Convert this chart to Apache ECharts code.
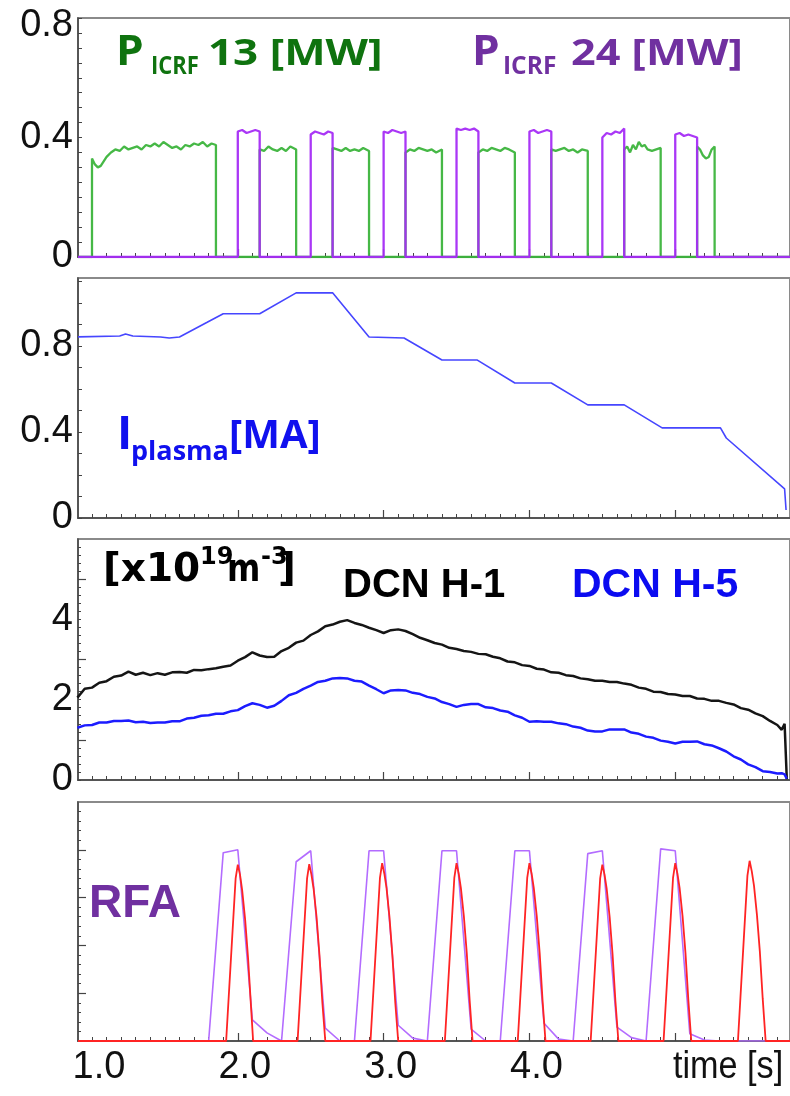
<!DOCTYPE html>
<html><head><meta charset="utf-8">
<script src="https://cdn.jsdelivr.net/npm/echarts@6/dist/echarts.min.js"></script>
<style>html,body{margin:0;padding:0;background:#fff}#c{width:790px;height:1096px}</style>
</head><body><div id="c"></div>
<script>
// ---------------- DATA ----------------
const timeRange = [0.904, 5.787];
const timeMinorTicks = [1.0,1.1,1.2,1.3,1.4,1.5,1.6,1.7,1.8,1.9,2.0,2.1,2.2,2.3,2.4,2.5,2.6,2.7,2.8,2.9,3.0,3.1,3.2,3.3,3.4,3.5,3.6,3.7,3.8,3.9,4.0,4.1,4.2,4.3,4.4,4.5,4.6,4.7,4.8,4.9,5.0,5.1,5.2,5.3,5.4,5.5,5.6,5.7];
const timeMajorTicks = [2, 3, 4, 5];
const timeLabels = [1, 2, 3, 4];

const p1YTicks = [0,0.05,0.1,0.15,0.2,0.25,0.3,0.35,0.4,0.45,0.5,0.55,0.6,0.65,0.7,0.75,0.8];
const p1YLabels = [0, 0.4, 0.8];
const p2YTicks = [0,0.1,0.2,0.3,0.4,0.5,0.6,0.7,0.8,0.9,1.0,1.1];
const p2YLabels = [0, 0.4, 0.8];
const p3YTicks = [0,0.2,0.4,0.6,0.8,1,1.2,1.4,1.6,1.8,2,2.2,2.4,2.6,2.8,3,3.2,3.4,3.6,3.8,4,4.2,4.4,4.6,4.8,5,5.2,5.4,5.6,5.8];
const p3YMajor = [1, 3, 5];
const p3YLabels = [0, 2, 4];
const p4YTicks = [0,0.2,0.4,0.6,0.8,1,1.2,1.4,1.6,1.8,2,2.2,2.4,2.6,2.8,3,3.2,3.4,3.6,3.8,4,4.2,4.4,4.6,4.8];
const p4YMajor = [1, 2, 3, 4];

// P_ICRF 13 [MW] (green)
const picrf13 = [[0.904,0],[1.0,0],[1.0,0.33],[1.02,0.31],[1.04,0.30],[1.06,0.305],[1.08,0.32],[1.10,0.335],[1.13,0.35],[1.16,0.36],[1.19,0.355],[1.22,0.37],[1.25,0.36],[1.28,0.365],[1.31,0.37],[1.34,0.36],[1.37,0.375],[1.40,0.37],[1.43,0.38],[1.46,0.37],[1.49,0.385],[1.52,0.375],[1.55,0.365],[1.58,0.37],[1.61,0.36],[1.64,0.375],[1.67,0.37],[1.70,0.38],[1.73,0.375],[1.76,0.385],[1.79,0.37],[1.82,0.38],[1.85,0.375],[1.85,0],
[2.15,0],[2.15,0.36],[2.18,0.355],[2.21,0.37],[2.24,0.36],[2.27,0.355],[2.30,0.365],[2.33,0.355],[2.36,0.37],[2.40,0.36],[2.40,0],
[2.65,0],[2.65,0.365],[2.68,0.36],[2.71,0.355],[2.74,0.365],[2.77,0.355],[2.80,0.36],[2.83,0.355],[2.86,0.365],[2.90,0.355],[2.90,0],
[3.15,0],[3.15,0.35],[3.18,0.36],[3.21,0.355],[3.24,0.365],[3.27,0.36],[3.30,0.355],[3.33,0.36],[3.36,0.35],[3.40,0.36],[3.40,0],
[3.65,0],[3.65,0.35],[3.68,0.36],[3.71,0.355],[3.74,0.365],[3.77,0.36],[3.80,0.355],[3.83,0.365],[3.86,0.36],[3.90,0.35],[3.90,0],
[4.15,0],[4.15,0.36],[4.18,0.355],[4.21,0.36],[4.24,0.365],[4.27,0.355],[4.30,0.36],[4.33,0.35],[4.36,0.36],[4.40,0.355],[4.40,0],
[4.65,0],[4.65,0.36],[4.67,0.37],[4.69,0.35],[4.71,0.375],[4.73,0.36],[4.75,0.385],[4.77,0.37],[4.79,0.375],[4.81,0.36],[4.84,0.355],[4.87,0.36],[4.90,0.365],[4.90,0],
[5.15,0],[5.15,0.37],[5.17,0.36],[5.19,0.34],[5.21,0.33],[5.23,0.335],[5.25,0.36],[5.27,0.37],[5.27,0],[5.787,0]];

// P_ICRF 24 [MW] (purple)
const picrf24 = [[0.904,0],[2.0,0],[2.0,0.42],[2.03,0.425],[2.06,0.415],[2.09,0.42],[2.12,0.425],[2.15,0.42],[2.15,0],
[2.5,0],[2.5,0.41],[2.53,0.42],[2.56,0.415],[2.59,0.41],[2.62,0.42],[2.65,0.415],[2.65,0],
[3.0,0],[3.0,0.42],[3.03,0.415],[3.06,0.425],[3.09,0.42],[3.12,0.415],[3.15,0.42],[3.15,0],
[3.5,0],[3.5,0.43],[3.53,0.425],[3.56,0.43],[3.59,0.425],[3.62,0.43],[3.65,0.42],[3.65,0],
[4.0,0],[4.0,0.42],[4.03,0.425],[4.06,0.415],[4.09,0.42],[4.12,0.425],[4.15,0.42],[4.15,0],
[4.5,0],[4.5,0.40],[4.53,0.415],[4.56,0.41],[4.59,0.42],[4.62,0.415],[4.65,0.43],[4.65,0],
[5.0,0],[5.0,0.41],[5.03,0.415],[5.06,0.405],[5.09,0.41],[5.12,0.405],[5.15,0.40],[5.15,0],[5.787,0]];

// I_plasma [MA]
const iplasma = [[0.904,0.842],[1.19,0.846],[1.23,0.856],[1.28,0.846],[1.47,0.842],[1.53,0.837],[1.60,0.842],[1.79,0.91],[1.90,0.95],[2.15,0.95],[2.40,1.047],[2.65,1.047],[2.90,0.842],[3.14,0.837],[3.40,0.735],[3.64,0.735],[3.90,0.628],[4.15,0.628],[4.40,0.526],[4.65,0.526],[4.91,0.419],[5.31,0.419],[5.35,0.372],[5.75,0.135],[5.76,0.037]];

// DCN H-1 (black), DCN H-5 (blue), x10^19 m^-3
const dcnTime = [0.90,0.95,1.00,1.05,1.10,1.15,1.20,1.25,1.30,1.35,1.40,1.45,1.50,1.55,1.60,1.65,1.70,1.75,1.80,1.85,1.90,1.95,2.00,2.05,2.10,2.15,2.20,2.25,2.30,2.35,2.40,2.45,2.50,2.55,2.60,2.65,2.70,2.75,2.80,2.85,2.90,2.95,3.00,3.05,3.10,3.15,3.20,3.25,3.30,3.35,3.40,3.45,3.50,3.55,3.60,3.65,3.70,3.75,3.80,3.85,3.90,3.95,4.00,4.05,4.10,4.15,4.20,4.25,4.30,4.35,4.40,4.45,4.50,4.55,4.60,4.65,4.70,4.75,4.80,4.85,4.90,4.95,5.00,5.05,5.10,5.15,5.20,5.25,5.30,5.35,5.40,5.45,5.50,5.55,5.60,5.65,5.70,5.73,5.75,5.765];
const dcnH1 = [2.05,2.27,2.30,2.42,2.46,2.57,2.60,2.70,2.62,2.67,2.61,2.66,2.62,2.68,2.69,2.67,2.74,2.73,2.76,2.78,2.82,2.85,2.97,3.06,3.18,3.10,3.06,3.07,3.21,3.29,3.42,3.47,3.61,3.70,3.83,3.87,3.94,3.98,3.91,3.86,3.79,3.73,3.66,3.73,3.75,3.71,3.63,3.54,3.48,3.41,3.37,3.29,3.26,3.21,3.19,3.14,3.13,3.07,3.03,2.95,2.93,2.86,2.84,2.77,2.75,2.68,2.67,2.61,2.59,2.53,2.51,2.47,2.47,2.44,2.44,2.40,2.37,2.30,2.27,2.20,2.19,2.14,2.13,2.09,2.09,2.03,2.02,1.97,1.97,1.92,1.88,1.79,1.75,1.66,1.59,1.47,1.37,1.25,1.40,0.02];
const dcnH5 = [1.30,1.36,1.37,1.43,1.43,1.47,1.47,1.48,1.44,1.45,1.42,1.43,1.43,1.46,1.46,1.53,1.55,1.60,1.61,1.65,1.65,1.71,1.74,1.84,1.91,1.87,1.80,1.85,1.97,2.11,2.17,2.27,2.35,2.44,2.47,2.53,2.54,2.53,2.47,2.45,2.35,2.26,2.16,2.23,2.24,2.23,2.17,2.14,2.07,2.03,1.94,1.89,1.82,1.87,1.89,1.89,1.81,1.79,1.73,1.70,1.61,1.55,1.45,1.46,1.45,1.45,1.41,1.39,1.33,1.30,1.23,1.21,1.21,1.26,1.26,1.26,1.18,1.15,1.08,1.05,0.98,0.95,0.91,0.95,0.95,0.96,0.89,0.86,0.79,0.71,0.59,0.51,0.39,0.32,0.22,0.20,0.16,0.17,0.14,0.03];

// RFA (purple envelope) and red signal
const rfaPurple = [[0.904,0],[1.8,0],[1.9,3.94],[2.0,4.0],[2.1,0.44],[2.2,0.17],[2.3,0],[2.4,3.75],[2.5,3.98],[2.6,0.27],[2.7,0],[2.8,0],[2.9,3.98],[3.0,3.98],[3.1,0.33],[3.2,0.06],[3.3,0],[3.4,3.98],[3.5,3.98],[3.6,0.25],[3.7,0],[3.8,0],[3.9,3.98],[4.0,3.98],[4.1,0.37],[4.2,0.04],[4.3,0],[4.4,3.92],[4.5,3.98],[4.6,0.29],[4.7,0.07],[4.8,0],[4.9,4.02],[5.0,3.98],[5.1,0.15],[5.2,0.02],[5.3,0],[5.787,0]];
const rfaRed = [[0.904,0],[1.92,0],[1.985,3.40],[2.0,3.69],[2.015,3.48],[2.03,3.15],[2.05,2.55],[2.07,1.75],[2.09,0.75],[2.105,0],
[2.41,0],[2.475,3.40],[2.49,3.70],[2.505,3.48],[2.52,3.18],[2.54,2.60],[2.56,1.80],[2.58,0.80],[2.60,0],
[2.91,0],[2.975,3.42],[2.99,3.72],[3.005,3.50],[3.02,3.20],[3.04,2.60],[3.06,1.80],[3.08,0.80],[3.10,0],
[3.42,0],[3.485,3.42],[3.50,3.72],[3.515,3.50],[3.53,3.20],[3.55,2.62],[3.57,1.85],[3.59,0.85],[3.61,0],
[3.92,0],[3.985,3.42],[4.00,3.72],[4.015,3.50],[4.03,3.20],[4.05,2.62],[4.07,1.85],[4.09,0.85],[4.11,0],
[4.42,0],[4.485,3.40],[4.50,3.69],[4.515,3.48],[4.53,3.18],[4.55,2.60],[4.57,1.82],[4.59,0.82],[4.61,0],
[4.92,0],[4.985,3.42],[5.00,3.72],[5.015,3.50],[5.03,3.20],[5.05,2.62],[5.07,1.85],[5.09,0.85],[5.11,0],
[5.43,0],[5.495,3.46],[5.51,3.77],[5.525,3.55],[5.54,3.25],[5.56,2.65],[5.58,1.88],[5.60,0.88],[5.62,0],[5.787,0]];

// ---------------- CHART ----------------
const NUM_FONT = '"Liberation Sans",Arial,sans-serif';
const NUM_SIZE = 38;
const AX = '#444';

const grids = [
  {left:78, top:18,  width:713, height:239},
  {left:78, top:278, width:713, height:240},
  {left:78, top:539, width:713, height:241},
  {left:78, top:802, width:713, height:239}
].map(g => Object.assign({show:true, borderColor:'#8a8a8a', borderWidth:2, backgroundColor:'transparent'}, g));

const xAxes = [];
for (let g = 0; g < 4; g++) {
  xAxes.push({
    type:'value', gridIndex:g, min:timeRange[0], max:timeRange[1], position:'bottom',
    axisLine:{show:true, onZero:false, lineStyle:{color:AX, width:1.5}},
    axisTick:{show:true, inside:true, length:4, customValues:timeMinorTicks, lineStyle:{color:AX, width:1}},
    axisLabel:{show:g===3, customValues:timeLabels, formatter:v=>v.toFixed(1), margin:8, padding:[0,0,0,14],
      fontFamily:NUM_FONT, fontSize:NUM_SIZE, color:'#111'},
    splitLine:{show:false}
  });
  xAxes.push({
    type:'value', gridIndex:g, min:timeRange[0], max:timeRange[1], position:'bottom',
    axisLine:{show:false, onZero:false},
    axisTick:{show:true, inside:true, length:8, customValues:timeMajorTicks, lineStyle:{color:AX, width:1.2}},
    axisLabel:{show:false}, splitLine:{show:false}
  });
}

function yAxis(g, max, ticks, labels, tickLen, fmt, rich) {
  return {
    type:'value', gridIndex:g, min:0, max:max, position:'left',
    axisLine:{show:true, onZero:false, lineStyle:{color:AX, width:1.5}},
    axisTick:{show:true, inside:true, length:tickLen, customValues:ticks, lineStyle:{color:AX, width:1}},
    axisLabel:{show:!!labels, customValues:labels || [], formatter:fmt, margin:5,
      fontFamily:NUM_FONT, fontSize:NUM_SIZE, color:'#111', rich:rich},
    splitLine:{show:false}
  };
}
function yMajor(g, max, ticks) {
  return {
    type:'value', gridIndex:g, min:0, max:max, position:'left',
    axisLine:{show:false, onZero:false},
    axisTick:{show:true, inside:true, length:8, customValues:ticks, lineStyle:{color:AX, width:1.2}},
    axisLabel:{show:false}, splitLine:{show:false}
  };
}
const topRich = {t:{fontFamily:NUM_FONT, fontSize:NUM_SIZE, color:'#111', padding:[16,0,0,0]}};
const yAxes = [
  yAxis(0, 0.8, p1YTicks, p1YLabels, 4, v => v === 0.8 ? '{t|0.8}' : String(v), topRich),
  yAxis(1, 1.116, p2YTicks, p2YLabels, 4, v => String(v)),
  yAxis(2, 6, p3YTicks, p3YLabels, 3, v => String(v)),
  yAxis(3, 5, p4YTicks, null, 3, v => ''),
  yMajor(2, 6, p3YMajor),
  yMajor(3, 5, p4YMajor)
];

function line(name, data, xi, yi, color, width, opacity) {
  return {name, type:'line', data, xAxisIndex:xi, yAxisIndex:yi, showSymbol:false, symbol:'none',
    lineStyle:{color, width, opacity: opacity == null ? 1 : opacity}, itemStyle:{color}, animation:false, silent:true, z:3};
}
const zipT = arr => arr.map((v, i) => [dcnTime[i], v]);

const series = [
  line('P_ICRF 13', picrf13, 0, 0, '#3cb43c', 2.3, 0.95),
  line('P_ICRF 24', picrf24, 0, 0, '#a52cf5', 2.3, 0.95),
  line('I_plasma', iplasma, 2, 1, '#4646ff', 1.6),
  line('DCN H-1', zipT(dcnH1), 4, 2, '#151515', 2.5),
  line('DCN H-5', zipT(dcnH5), 4, 2, '#1c1cff', 2.5),
  line('RFA', rfaPurple, 6, 3, '#b36cff', 1.6),
  line('RFA signal', rfaRed, 6, 3, '#ff2424', 1.8)
];

function txt(text, x, y, size, color, family, weight, sx) {
  return {type:'text', x, y, scaleX: sx || 1, z:10, silent:true,
    style:{text, fill:color, fontSize:size, fontFamily:family, fontWeight:weight || 'bold',
      textAlign:'left', align:'left', textVerticalAlign:'middle', verticalAlign:'middle'}};
}
const CAL = '"Open Sans","Noto Sans",sans-serif';
const ARB = '"Liberation Sans",Arial,sans-serif';
const DJB = '"DejaVu Sans",sans-serif';
const GREEN = '#0f730f', PURP = '#7030a0', BLUE = '#1010ee';
const graphics = [
  txt('P', 116, 53, 42, GREEN, CAL, 'bold', 1.05), txt('ICRF', 151, 67, 25, GREEN, CAL, 'bold', 0.88), txt('13 [MW]', 208, 55, 36, GREEN, CAL, 'bold', 1.22),
  txt('P', 472, 53, 42, PURP, CAL, 'bold', 1.05), txt('ICRF', 503, 67, 25, PURP, CAL, 'bold', 0.98), txt('24 [MW]', 571, 55, 36, PURP, CAL, 'bold', 1.2),
  txt('I', 117, 436, 46, BLUE, CAL), txt('plasma', 131, 452, 27, BLUE, CAL), txt('[MA]', 229, 437, 40, BLUE, CAL),
  txt('[x10', 103, 571, 39, '#000', DJB), txt('19', 200, 558, 24, '#000', DJB), txt('m', 227, 571, 39, '#000', DJB, 'bold', 0.82),
  txt('-3', 261, 558, 24, '#000', DJB), txt(']', 278, 571, 39, '#000', DJB),
  txt('DCN H-1', 343, 586, 40, '#000', ARB), txt('DCN H-5', 572, 586, 41, '#0b0bf0', ARB),
  txt('RFA', 89, 904, 46, PURP, ARB),
  txt('time [s]', 673, 1068, 38, '#111', NUM_FONT, 'normal', 0.9)
];

const chart = echarts.init(document.getElementById('c'), null, {renderer:'canvas'});
chart.setOption({
  animation:false, backgroundColor:'#fff',
  grid:grids, xAxis:xAxes, yAxis:yAxes, series:series, graphic:{elements:graphics}
});
</script></body></html>
